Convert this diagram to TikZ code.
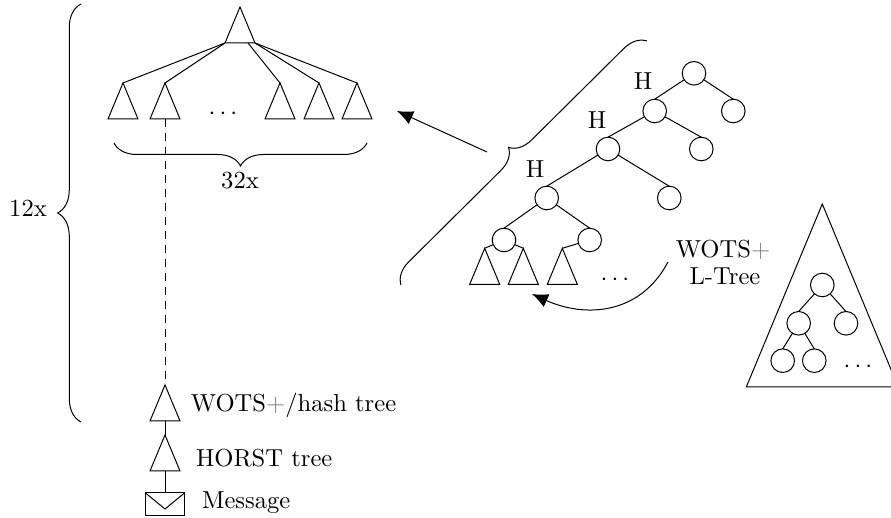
\documentclass[tikz,border=0pt]{standalone}
\usetikzlibrary{shapes.geometric,decorations.pathreplacing,arrows.meta}
\tikzset{
  every path/.style={line width=0.5pt},
  lbl/.style={inner sep=0pt,outer sep=0pt,scale=1.23},
  tri/.style={draw,isosceles triangle,isosceles triangle stretches,shape border rotate=90,
    inner sep=0pt,outer sep=0pt,anchor=apex,minimum width=15pt,minimum height=18pt},
  bigtri/.style={tri,minimum width=76pt,minimum height=91.5pt},
  circ/.style={draw,circle,inner sep=0pt,outer sep=0pt,minimum size=11.8pt},
  bigarrow/.style={-{Latex[length=8pt,width=7pt]}},
  bracedeco/.style={decorate,decoration={brace,amplitude=#1}},
  dashedlink/.style={dash pattern=on 4pt off 3pt}
}
\begin{document}
\begin{tikzpicture}[x=0.5pt,y=-0.5pt]
\useasboundingbox (0,0) rectangle (891,518);
% top tree
\node[tri] (top) at (240,7) {};
\node[tri] (t1) at (123,83) {};
\node[tri] (t2) at (165,83) {};
\node[tri] (t3) at (280,83) {};
\node[tri] (t4) at (319,83) {};
\node[tri] (t5) at (357,83) {};
\draw (top.left corner) -- (t1.apex);
\draw (top.left corner) -- (t2.apex);
\coordinate (topb) at (248,43);
\draw (topb) -- (t3.apex);
\draw (top.right corner) -- (t4.apex);
\draw (top.right corner) -- (t5.apex);
\node[lbl] (dots1) at (223,114) {$\cdots$};
% lower chain
\node[tri] (w) at (165,385) {};
\node[tri] (h) at (165,435) {};
\node[draw,rectangle,inner sep=0pt,outer sep=0pt,minimum width=19.5pt,minimum height=11.5pt] (env) at (165,504.5) {};
\coordinate (flap) at (165,509);
\draw (env.north west) -- (flap) -- (env.north east);
\draw[dashedlink] (t2.south) -- (w.apex);
\draw (w.south) -- (h.apex);
\draw (h.south) -- (env.north);
\node[lbl,anchor=base west] (wl) at (191,411.7) {WOTS\textcolor{gray}{+}/hash tree};
\node[lbl,anchor=base west] (hl) at (196,466.7) {HORST tree};
\node[lbl,anchor=base west] (ml) at (202,509) {Message};
% braces
\coordinate (b1a) at (81,422); \coordinate (b1b) at (81,4);
\draw[bracedeco=11.7pt] (b1a) -- (b1b);
\node[lbl,anchor=base] (l12) at (28,216.7) {12x};
\coordinate (b2a) at (367,143); \coordinate (b2b) at (114,143);
\draw[bracedeco=11.5pt] (b2a) -- (b2b);
\node[lbl,anchor=base] (l32) at (240,188.3) {32x};
\coordinate (b3a) at (401,285); \coordinate (b3b) at (647,41);
\draw[bracedeco=11pt] (b3a) -- (b3b);
\coordinate (ar1) at (487,152); \coordinate (ar2) at (397,111);
\draw[bigarrow] (ar1) -- (ar2);
% right tree
\node[circ] (a1) at (694,73.3) {};
\node[circ] (a2) at (733.3,111) {};
\node[circ] (b1) at (654.7,111) {};
\node[circ] (b2) at (701.3,149) {};
\node[circ] (c1) at (608,149) {};
\node[circ] (c2) at (669.3,198) {};
\node[circ] (d1) at (546.7,198) {};
\node[circ] (e1) at (504,240) {};
\node[circ] (e2) at (589.7,240) {};
\draw (a1) -- (a2.north); \draw (a1) -- (b1.north);
\draw (b1) -- (b2.north); \draw (b1) -- (c1.north);
\draw (c1) -- (c2.north); \draw (c1) -- (d1.north);
\draw (d1) -- (e1.north); \draw (d1) -- (e2.north);
\node[tri] (r1) at (484.7,248.3) {};
\node[tri] (r2) at (523.3,248.3) {};
\node[tri] (r3) at (562.3,248.3) {};
\draw (e1) -- (r1.apex); \draw (e1) -- (r2.apex); \draw (e2) -- (r3.apex);
\node[lbl] (dots2) at (615,280) {$\cdots$};
\node[lbl,anchor=base] (h1) at (643,90) {H};
\node[lbl,anchor=base] (h2) at (597,128.3) {H};
\node[lbl,anchor=base] (h3) at (535,177.3) {H};
\node[lbl,anchor=base] (wots) at (723,257.3) {WOTS\textcolor{gray}{+}};
\node[lbl,anchor=base] (ltree) at (725,285) {L-Tree};
\coordinate (cu1) at (668,262); \coordinate (cu2) at (532,294);
\draw[bigarrow] (cu1) .. controls (640,315) and (585,318) .. (cu2);
% big triangle
\node[bigtri] (big) at (822.3,204) {};
\node[circ] (i1) at (822.3,285) {};
\node[circ] (i2) at (798.7,323.3) {};
\node[circ] (i3) at (846,323.3) {};
\node[circ] (i4) at (782.7,360.7) {};
\node[circ] (i5) at (814.3,360.7) {};
\draw (i1) -- (i2.north); \draw (i1) -- (i3.north); \draw (i2) -- (i4.north); \draw (i2) -- (i5.north);
\node[lbl] (dots3) at (858,367) {$\cdots$};
\end{tikzpicture}
\end{document}
